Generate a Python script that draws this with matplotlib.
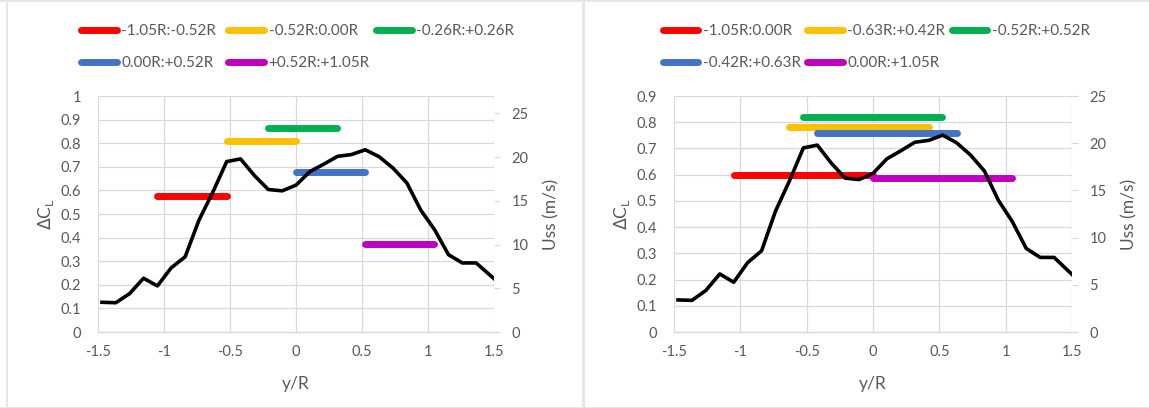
import numpy as np
import matplotlib
matplotlib.use("Agg")
from matplotlib import pyplot as plt
from matplotlib.lines import Line2D
from matplotlib.patches import Rectangle

plt.rcParams["font.family"] = ["Lato", "DejaVu Sans"]

# black curve: spanwise velocity (right axis), same in both panels
y_over_r = [-1.47, -1.365, -1.26, -1.155, -1.05, -0.945, -0.84, -0.735, -0.63,
            -0.525, -0.42, -0.315, -0.21, -0.105, 0.0, 0.105, 0.21, 0.315,
            0.42, 0.525, 0.63, 0.735, 0.84, 0.945, 1.05, 1.155, 1.26, 1.365, 1.5]
uss = [3.4, 3.35, 4.4, 6.15, 5.27, 7.35, 8.6, 12.8, 16.0,
       19.5, 19.8, 17.9, 16.3, 16.15, 16.8, 18.35, 19.2, 20.1,
       20.3, 20.85, 20.05, 18.75, 17.05, 13.95, 11.7, 8.85, 7.9, 7.9, 6.1]

colors = ["#ff0000", "#ffc000", "#00b050", "#4472c4", "#c000c0"]

# left panel: delta CL of each section
left_labels = ["-1.05R:-0.52R", "-0.52R:0.00R", "-0.26R:+0.26R",
               "0.00R:+0.52R", "+0.52R:+1.05R"]
left_start = [-1.05, -0.52, -0.215, 0.0, 0.52]
left_end = [-0.525, 0.0, 0.31, 0.52, 1.045]
left_dcl = [0.577, 0.809, 0.866, 0.677, 0.371]

# right panel
right_labels = ["-1.05R:0.00R", "-0.63R:+0.42R", "-0.52R:+0.52R",
                "-0.42R:+0.63R", "0.00R:+1.05R"]
right_start = [-1.05, -0.63, -0.53, -0.42, 0.0]
right_end = [0.0, 0.42, 0.52, 0.63, 1.05]
right_dcl = [0.600, 0.781, 0.820, 0.760, 0.588]

x_ticks = [-1.5, -1, -0.5, 0, 0.5, 1, 1.5]
uss_ticks = [0, 5, 10, 15, 20, 25]

W, H = 1149, 408
TXT = "#595959"
GRID = "#d9d9d9"
TICK_FS = 10.5
LEG_FS = 11
TITLE_FS = 12.5


def px_axes(fig, x0, x1, y0, y1):
    return fig.add_axes([x0 / W, 1 - y1 / H, (x1 - x0) / W, (y1 - y0) / H])


def draw_legend(fig, x0, colw, labels):
    rows = [29.5, 61.5]
    for i, (lab, c) in enumerate(zip(labels, colors)):
        x = x0 + (i % 3) * colw
        y = 1 - rows[i // 3] / H
        line = Line2D([(x + 3.5) / W, (x + 39.5) / W], [y, y],
                      transform=fig.transFigure, color=c, lw=5,
                      solid_capstyle="round")
        fig.add_artist(line)
        fig.text((x + 44) / W, y, lab, ha="left", va="center_baseline",
                 color=TXT, fontsize=LEG_FS)


def draw_panel(fig, x0, x1, starts, ends, dcl, dcl_max, uss_max, dcl_step):
    ax = px_axes(fig, x0, x1, 96, 332)
    ax2 = ax.twinx()

    for s, e, v, c in zip(starts, ends, dcl, colors):
        ax.plot([s, e], [v, v], color=c, lw=5, solid_capstyle="round")
    ax2.plot(y_over_r, uss, color="black", lw=2.6)

    ax.set_xlim(-1.5, 1.5)
    ax.set_ylim(0, dcl_max)
    ax2.set_ylim(0, uss_max)
    ax.set_xticks(x_ticks)
    ax.set_xticklabels(["%g" % t for t in x_ticks])
    dcl_ticks = np.round(np.arange(0, dcl_max + 1e-9, dcl_step), 2)
    ax.set_yticks(dcl_ticks)
    ax.set_yticklabels(["%g" % t for t in dcl_ticks])
    ax2.set_yticks(uss_ticks)
    ax2.set_yticklabels([str(t) for t in uss_ticks])

    ax.grid(True, color=GRID, lw=0.9)
    ax.set_axisbelow(True)
    for a in (ax, ax2):
        for sp in a.spines.values():
            sp.set_visible(False)
    ax.spines["bottom"].set_visible(True)
    ax.spines["bottom"].set_color(GRID)
    ax.spines["bottom"].set_linewidth(1.0)

    ax.tick_params(axis="x", length=0, pad=9, labelsize=TICK_FS, labelcolor=TXT)
    ax.tick_params(axis="y", length=0, pad=12, labelsize=TICK_FS, labelcolor=TXT)
    ax2.tick_params(axis="y", length=4, width=0.9, color=GRID, pad=8.5,
                    labelsize=TICK_FS, labelcolor=TXT)

    fig.text((x0 + x1) / 2 / W, 1 - 384 / H, "y/R", ha="center", va="center",
             color=TXT, fontsize=TITLE_FS)
    fig.text((x0 - 52) / W, 1 - 214 / H, r"$\Delta$C$_\mathregular{L}$",
             ha="center", va="center", rotation=90, color=TXT, fontsize=TITLE_FS)
    fig.text((x1 + 57) / W, 1 - 214 / H, "Uss (m/s)", ha="center", va="center",
             rotation=90, color=TXT, fontsize=TITLE_FS)
    return ax, ax2


def main():
    fig = plt.figure(figsize=(W / 100, H / 100), dpi=100)
    fig.patch.set_facecolor("white")

    # light gray frame around the two charts
    frame = "#e6e6e6"
    for (x, y, w, h) in [(0, 0, W, 2.3), (6, 0, 2, H), (582, 0, 2.5, H),
                         (0, 406.5, W, 1.5)]:
        fig.add_artist(Rectangle((x / W, 1 - (y + h) / H), w / W, h / H,
                                 transform=fig.transFigure, color=frame, lw=0))

    draw_panel(fig, 98, 494, left_start, left_end, left_dcl, 1.0, 27, 0.1)
    draw_panel(fig, 674, 1072, right_start, right_end, right_dcl, 0.9, 25, 0.1)

    draw_legend(fig, 77, 147.5, left_labels)
    draw_legend(fig, 659, 144.5, right_labels)

    fig.savefig("out.png", dpi=100)


if __name__ == "__main__":
    main()
